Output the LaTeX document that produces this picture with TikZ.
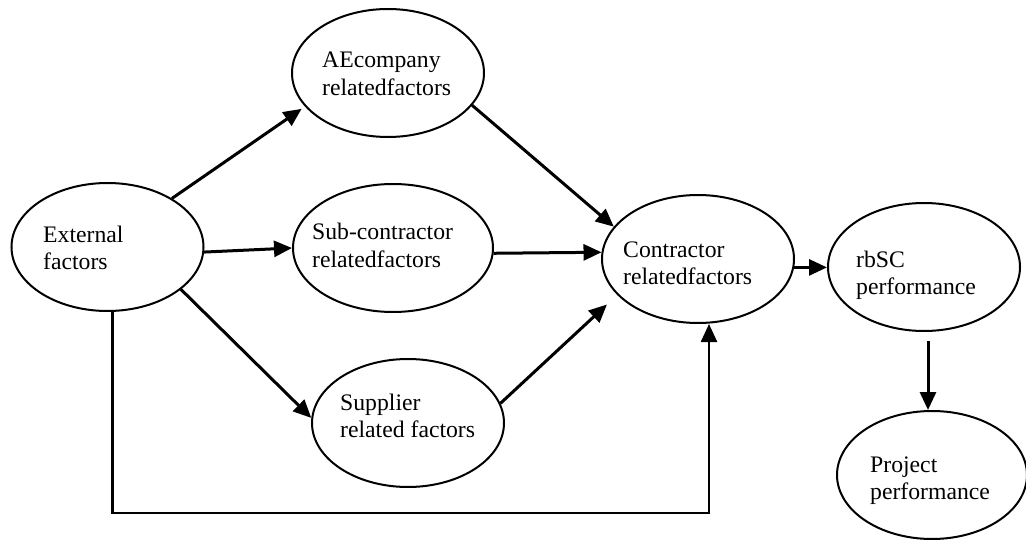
\documentclass[tikz,border=0pt]{standalone}
\usepackage{fontspec}
\setmainfont{Liberation Serif}
\usetikzlibrary{shapes.geometric,arrows.meta}
\begin{document}
\begin{tikzpicture}[x=1pt,y=-1pt,
  ell/.style={draw,ellipse,line width=2pt,minimum width=192pt,minimum height=128pt,inner sep=0pt},
  lbl/.style={anchor=base west,align=left,inner sep=0pt,font=\fontsize{23.7}{27.5}\selectfont},
  arr/.style={-{Triangle[length=18pt,width=16pt]},line width=3pt},
  link/.style={-{Triangle[length=18pt,width=16pt]},line width=2.5pt},
]
\useasboundingbox[fill=white] (0,0) rectangle (1026,540);
% ellipses
\node[ell] (ext) at (107.5,247) {};
\node[ell] (ae)  at (388,73) {};
\node[ell,minimum width=200pt] (sub) at (393,248) {};
\node[ell] (sup) at (408,423) {};
\node[ell] (con) at (698,259) {};
\node[ell] (rb)  at (924,267) {};
\node[ell,minimum width=190pt] (pr)  at (932,475) {};
% labels (anchor at baseline of last line)
\node[lbl] (extT) at (43,269.5)  {External\\factors};
\node[lbl] (aeT)  at (322,95.5)  {AEcompany\\relatedfactors};
\node[lbl] (subT) at (312,267.5) {Sub-contractor\\relatedfactors};
\node[lbl] (supT) at (340,437.5) {Supplier\\related factors};
\node[lbl] (conT) at (623,284.5) {Contractor\\relatedfactors};
\node[lbl] (rbT)  at (856,294.5) {rbSC\\performance};
\node[lbl] (prT)  at (870,499.5) {Project\\performance};
% connectors
\draw[arr,shorten >=4pt] (ext.37) -- (ae.202);
\draw[arr] (ext.-3.6) -- (sub.180.6);
\draw[arr] (ext.-30) -- (sup.177);
\draw[arr] (ae.-21) -- (con.159);
\draw[arr] (sub.-3) -- (con.176);
\draw[arr,shorten >=14pt] (sup.12) -- (con.204);
\draw[arr] (con.-5) -- (con.-5 -| rb.west);
\draw[arr] ([xshift=4pt,yshift=-9pt]rb.south) -- ([xshift=-4pt]pr.north);
\coordinate (bot) at (0,513);
\coordinate (e0) at ([xshift=5pt]ext.south);
\coordinate (c0) at ([xshift=11pt]con.south);
\draw[link] (e0) -- (e0 |- bot) -| (c0);
\end{tikzpicture}
\end{document}
